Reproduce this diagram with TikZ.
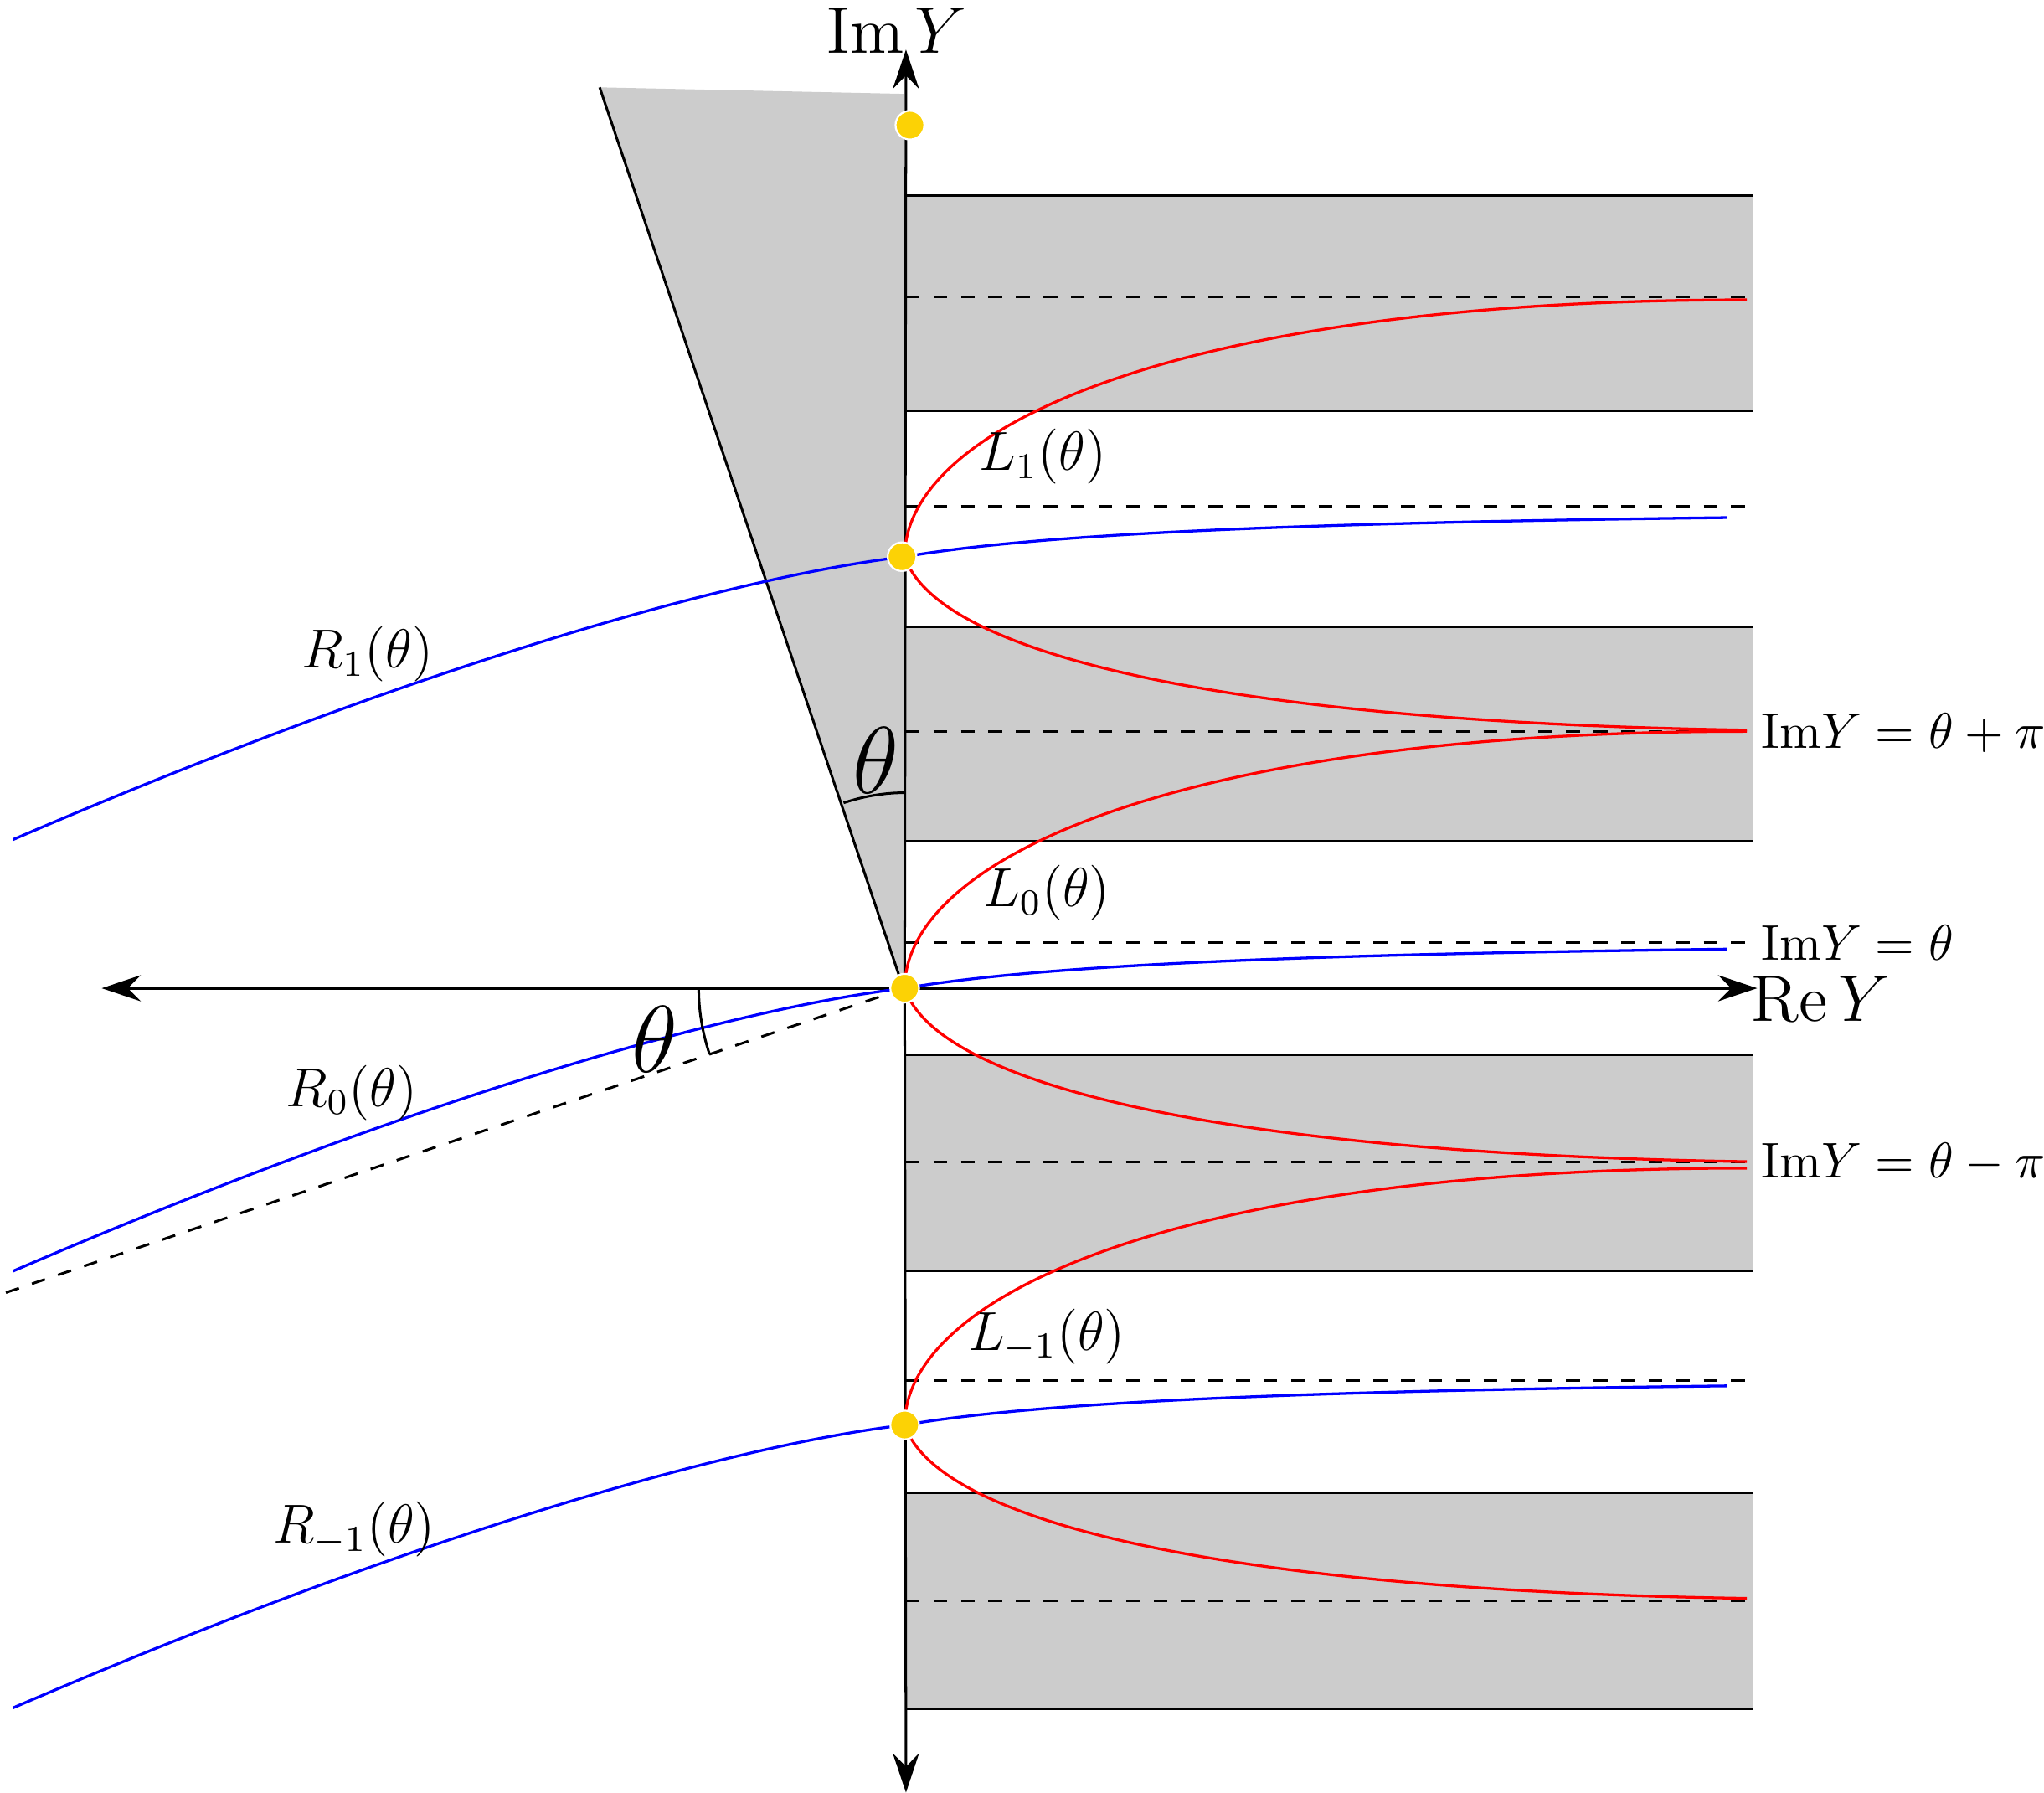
\documentclass[tikz,border=0pt]{standalone}
\usepackage{amsmath}
\usetikzlibrary{arrows.meta}
\begin{document}
\begin{tikzpicture}[x=0.01cm,y=-0.01cm,
  strip/.style={fill=black!20},
  edge/.style={line width=0.55pt},
  tip/.style={-{Stealth[length=0.3cm,width=0.2cm,inset=0.1cm]}},
  dsh/.style={dashed,line width=0.55pt},
  blu/.style={blue,line width=0.6pt},
  rd/.style={red,line width=0.6pt},
  dot/.style={circle,fill=yellow!70!orange,draw=white,inner sep=0pt,minimum size=0.22cm},
  lab/.style={font=\fontsize{11.5}{14}\selectfont},
  rl/.style={font=\fontsize{10.8}{13}\selectfont,inner sep=1pt},
  ax/.style={font=\fontsize{15}{18}\selectfont},
  big/.style={font=\fontsize{22}{26}\selectfont}]
\useasboundingbox (0,0) rectangle (1568,1375);
% wedge
\fill[black!20] (460,67) -- (693,72) -- (693,758) -- cycle;
\draw[edge] (460,67) -- (693,758);
% strips
\foreach \a/\b in {150/315,481/645,809/975,1145/1311}{
  \fill[strip] (695,\a) rectangle (1345,\b);
  \draw[edge] (695,\a) -- (1345,\a);
  \draw[edge] (695,\b) -- (1345,\b);
}
\foreach \y in {228,388,561,723,891,1059,1228}{\draw[dsh] (695,\y) -- (1340,\y);}
\coordinate (O) at (694,758);
\coordinate (DL) at (0,993);
\draw[dsh] (O) -- (DL);
% axes
\coordinate (top) at (695,38);
\coordinate (bot) at (695,1375);
\coordinate (lft) at (78,758);
\coordinate (rgt) at (1348,758);
\draw[edge,tip] (O) -- (top);
\draw[edge,tip] (O) -- (bot);
\draw[edge,tip] (O) -- (lft);
\draw[edge,tip] (O) -- (rgt);
\node[ax,anchor=north,inner sep=1pt] (im) at (688,2) {$\mathrm{Im}\,Y$};
\node[ax] (re) at (1397,766) {$\mathrm{Re}\,Y$};
% curves
\foreach \c in {0,1,2}{
 \pgfmathsetmacro{\s}{ifthenelse(\c==0,-331,ifthenelse(\c==1,0,335))}
 \begin{scope}[yshift=-\s*0.01cm]
 \draw[blu] (10,975) .. controls (300,850) and (550,775) .. (694,758) .. controls (800,740) and (1000,732) .. (1325,728);
 \draw[rd] (694,758) .. controls (694,660) and (900,561) .. (1340,561);
 \draw[rd] (694,758) .. controls (720,835) and (950,885) .. (1340,891);
 \end{scope}
}
% angle arcs
\draw[edge] (695,608) arc[start angle=270,end angle=251.4,radius=150];
\draw[edge] (536,758) arc[start angle=180,end angle=161.3,radius=158];
\node[big] (t1) at (672,583) {$\theta$};
\node[big] (t2) at (502,797) {$\theta$};
% dots
\node[dot] (d0) at (698,96) {};
\node[dot] (d1) at (692,427) {};
\node[dot] (d2) at (694,758) {};
\node[dot] (d3) at (694,1093) {};
% labels
\node[lab] (l1) at (800,350) {$L_1(\theta)$};
\node[lab] (l0) at (803,685) {$L_0(\theta)$};
\node[lab] (lm) at (803,1025) {$L_{-1}(\theta)$};
\node[lab] (r1) at (282,502) {$R_1(\theta)$};
\node[lab] (r0) at (270,838) {$R_0(\theta)$};
\node[lab] (rm) at (272,1173) {$R_{-1}(\theta)$};
\node[rl,anchor=west] (e1) at (1347,562) {$\mathrm{Im}Y=\theta+\pi$};
\node[rl,anchor=west] (e2) at (1347,723) {$\mathrm{Im}Y=\theta$};
\node[rl,anchor=west] (e3) at (1347,892) {$\mathrm{Im}Y=\theta-\pi$};
\end{tikzpicture}
\end{document}
